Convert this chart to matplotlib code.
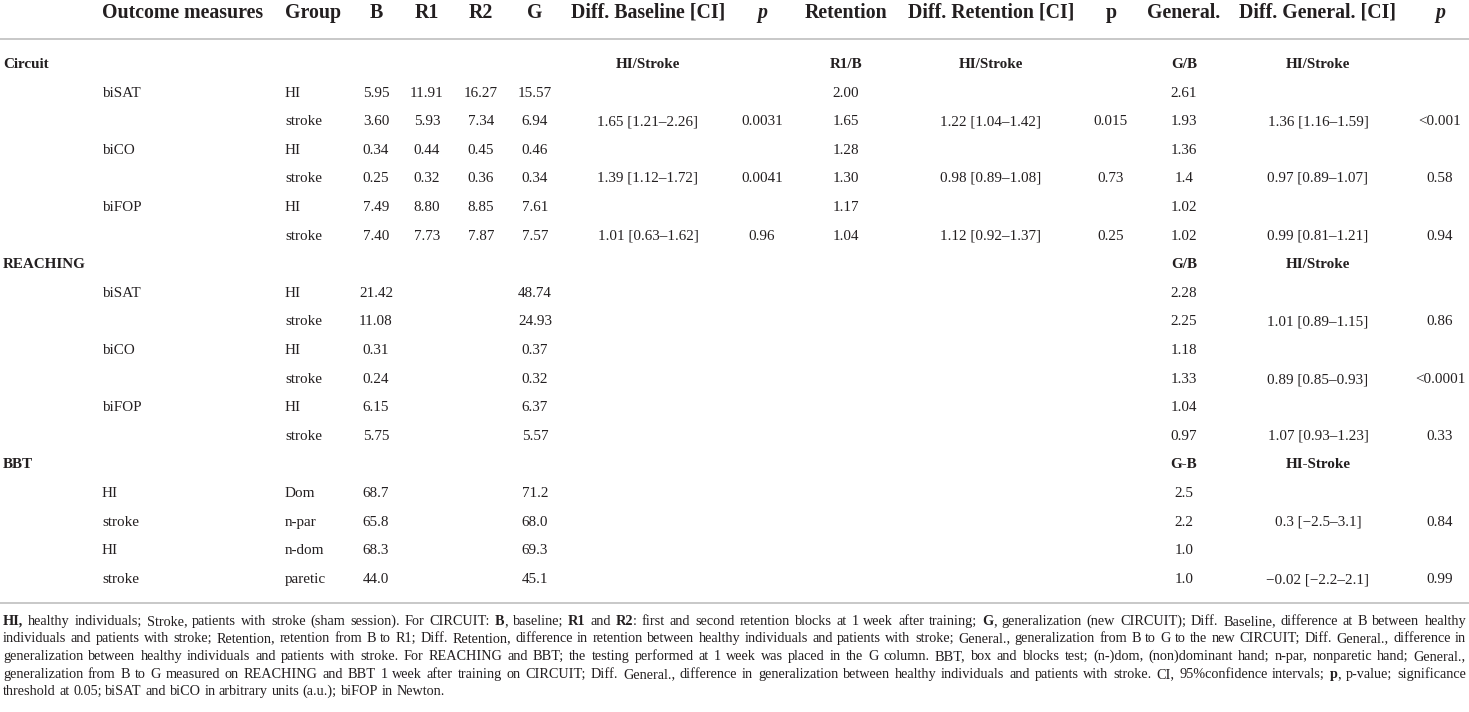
import matplotlib as mpl
mpl.use('Agg')
import matplotlib.pyplot as plt

plt.rcParams['font.family'] = ['Liberation Serif', 'DejaVu Serif']

#   Table content
headers = ["Outcome measures", "Group", "B", "R1", "R2", "G", "Diff. Baseline [CI]", "p",
           "Retention", "Diff. Retention [CI]", "p", "General.", "Diff. General. [CI]", "p"]
italic_header = [7, 13]

#   Circuit block
circuit_head    = ["", "", "", "", "", "", "HI/Stroke", "", "R1/B", "HI/Stroke", "", "G/B", "HI/Stroke", ""]
circuit_measure = ["biSAT", "", "biCO", "", "biFOP", ""]
circuit_group   = ["HI", "stroke", "HI", "stroke", "HI", "stroke"]
circuit_B       = ["5.95", "3.60", "0.34", "0.25", "7.49", "7.40"]
circuit_R1      = ["11.91", "5.93", "0.44", "0.32", "8.80", "7.73"]
circuit_R2      = ["16.27", "7.34", "0.45", "0.36", "8.85", "7.87"]
circuit_G       = ["15.57", "6.94", "0.46", "0.34", "7.61", "7.57"]
circuit_dbase   = ["", "1.65 [1.21–2.26]", "", "1.39 [1.12–1.72]", "", "1.01 [0.63–1.62]"]
circuit_pbase   = ["", "0.0031", "", "0.0041", "", "0.96"]
circuit_ret     = ["2.00", "1.65", "1.28", "1.30", "1.17", "1.04"]
circuit_dret    = ["", "1.22 [1.04–1.42]", "", "0.98 [0.89–1.08]", "", "1.12 [0.92–1.37]"]
circuit_pret    = ["", "0.015", "", "0.73", "", "0.25"]
circuit_gen     = ["2.61", "1.93", "1.36", "1.4", "1.02", "1.02"]
circuit_dgen    = ["", "1.36 [1.16–1.59]", "", "0.97 [0.89–1.07]", "", "0.99 [0.81–1.21]"]
circuit_pgen    = ["", "<0.001", "", "0.58", "", "0.94"]

#   Reaching block
reaching_head    = [""] * 11 + ["G/B", "HI/Stroke", ""]
reaching_measure = ["biSAT", "", "biCO", "", "biFOP", ""]
reaching_group   = ["HI", "stroke", "HI", "stroke", "HI", "stroke"]
reaching_B       = ["21.42", "11.08", "0.31", "0.24", "6.15", "5.75"]
reaching_G       = ["48.74", "24.93", "0.37", "0.32", "6.37", "5.57"]
reaching_gen     = ["2.28", "2.25", "1.18", "1.33", "1.04", "0.97"]
reaching_dgen    = ["", "1.01 [0.89–1.15]", "", "0.89 [0.85–0.93]", "", "1.07 [0.93–1.23]"]
reaching_pgen    = ["", "0.86", "", "<0.0001", "", "0.33"]

#   BBT block
bbt_head    = [""] * 11 + ["G-B", "HI-Stroke", ""]
bbt_measure = ["HI", "stroke", "HI", "stroke"]
bbt_group   = ["Dom", "n-par", "n-dom", "paretic"]
bbt_B       = ["68.7", "65.8", "68.3", "44.0"]
bbt_G       = ["71.2", "68.0", "69.3", "45.1"]
bbt_gen     = ["2.5", "2.2", "1.0", "1.0"]
bbt_dgen    = ["", "0.3 [−2.5–3.1]", "", "−0.02 [−2.2–2.1]"]
bbt_pgen    = ["", "0.84", "", "0.99"]

#   Footnote, *...* marks bold
footnote = [
    "*HI,* healthy individuals; Stroke, patients with stroke (sham session). For CIRCUIT: *B*, baseline; *R1* and *R2*: first and second retention blocks at 1 week after training; *G*, generalization (new CIRCUIT); Diff. Baseline, difference at B between healthy",
    "individuals and patients with stroke; Retention, retention from B to R1; Diff. Retention, difference in retention between healthy individuals and patients with stroke; General., generalization from B to G to the new CIRCUIT; Diff. General., difference in",
    "generalization between healthy individuals and patients with stroke. For REACHING and BBT; the testing performed at 1 week was placed in the G column. BBT, box and blocks test; (n-)dom, (non)dominant hand; n-par, nonparetic hand; General.,",
    "generalization from B to G measured on REACHING and BBT 1 week after training on CIRCUIT; Diff. General., difference in generalization between healthy individuals and patients with stroke. CI, 95%confidence intervals; *p*, p-value; significance",
    "threshold at 0.05; biSAT and biCO in arbitrary units (a.u.); biFOP in Newton.",
]

#   Assemble rows (14 columns each)
blank = lambda n: [""] * n
circuit_rows = [list(r) for r in zip(circuit_measure, circuit_group, circuit_B, circuit_R1, circuit_R2,
                                     circuit_G, circuit_dbase, circuit_pbase, circuit_ret, circuit_dret,
                                     circuit_pret, circuit_gen, circuit_dgen, circuit_pgen)]
n = len(reaching_B)
reaching_rows = [list(r) for r in zip(reaching_measure, reaching_group, reaching_B, blank(n), blank(n),
                                      reaching_G, blank(n), blank(n), blank(n), blank(n), blank(n),
                                      reaching_gen, reaching_dgen, reaching_pgen)]
n = len(bbt_B)
bbt_rows = [list(r) for r in zip(bbt_measure, bbt_group, bbt_B, blank(n), blank(n),
                                 bbt_G, blank(n), blank(n), blank(n), blank(n), blank(n),
                                 bbt_gen, bbt_dgen, bbt_pgen)]
sections = [("Circuit", circuit_head, circuit_rows),
            ("REACHING", reaching_head, reaching_rows),
            ("BBT", bbt_head, bbt_rows)]

#   Layout (pixel coordinates)
W, H = 1469, 712
col_x  = [102, 285, 376, 427, 481, 535, 648, 762, 846, 991, 1111, 1184, 1318, 1440]
col_ha = ['left', 'left'] + ['center'] * 12
ink = '#231f20'
rule = '#c8c8c8'
body_size = 10.9
head_size = 14.3

fig = plt.figure(figsize=(W / 100, H / 100), dpi=100)
ax = fig.add_axes([0, 0, 1, 1])
ax.set_xlim(0, W)
ax.set_ylim(H, 0)
ax.axis('off')

#   Header
for i, h in enumerate(headers):
    ax.text(col_x[i], 18, h, ha=col_ha[i], va='baseline', fontsize=head_size,
            fontweight='bold', style='italic' if i in italic_header else 'normal', color=ink)
ax.plot([0, W], [39, 39], color=rule, lw=1.4, solid_capstyle='butt')

#   Body
y0, dy = 68, 28.6
row = 0
for label, head, rows in sections:
    y = round(y0 + row * dy)
    ax.text(3, y, label, ha='left', va='baseline', fontsize=body_size, fontweight='bold', color=ink)
    for i, s in enumerate(head):
        if s:
            ax.text(col_x[i], y, s, ha=col_ha[i], va='baseline', fontsize=body_size,
                    fontweight='bold', color=ink)
    row += 1
    for r in rows:
        y = round(y0 + row * dy)
        for i, s in enumerate(r):
            if s:
                ax.text(col_x[i], y, s, ha=col_ha[i], va='baseline', fontsize=body_size, color=ink)
        row += 1

ax.plot([0, W], [603, 603], color=rule, lw=1.4, solid_capstyle='butt')

#   Footnote, justified like the journal layout
renderer = fig.canvas.get_renderer()

def width_of(s, size, bold):
    t = ax.text(0, 0, s, fontsize=size, fontweight='bold' if bold else 'normal')
    w = t.get_window_extent(renderer).width
    t.remove()
    return w

def parse(line):
    words, bold = [], False
    for w in line.split(' '):
        runs = []
        for k, part in enumerate(w.split('*')):
            if k > 0:
                bold = not bold
            if part:
                runs.append((part, bold))
        words.append(runs)
    return words

def natural_width(line, size):
    words = parse(line)
    space = width_of("a a", size, False) - width_of("aa", size, False)
    total = sum(width_of(t, size, b) for wd in words for t, b in wd)
    return total + space * (len(words) - 1)

left, right = 3, 1466
widest = max(natural_width(l, 10) for l in footnote[:-1])
foot_size = 10 * (right - left) * 0.985 / widest

for j, line in enumerate(footnote):
    y = round(625 + j * 17.5)
    words = parse(line)
    widths = [[width_of(t, foot_size, b) for t, b in wd] for wd in words]
    space = width_of("a a", foot_size, False) - width_of("aa", foot_size, False)
    if j < len(footnote) - 1:
        gap = (right - left - sum(sum(w) for w in widths)) / (len(words) - 1)
    else:
        gap = space
    x = left
    for wd, ws in zip(words, widths):
        for (t, b), w in zip(wd, ws):
            ax.text(x, y, t, ha='left', va='baseline', fontsize=foot_size,
                    fontweight='bold' if b else 'normal', color=ink)
            x += w
        x += gap

fig.savefig('out.png', dpi=100)
